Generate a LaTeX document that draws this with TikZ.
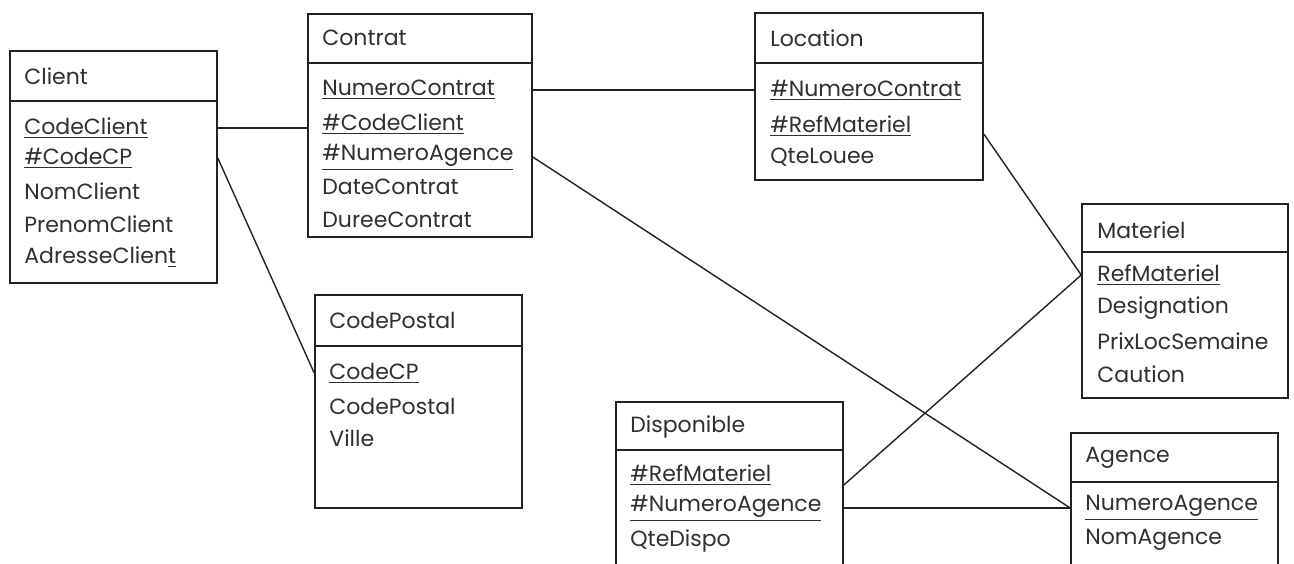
\documentclass[tikz,border=0pt]{standalone}
\usepackage{fontspec}
\setmainfont{Poppins}
\usetikzlibrary{fit,calc}
\definecolor{txt}{HTML}{303030}
\definecolor{ln}{HTML}{222222}
\tikzset{
  box/.style={draw=ln, line width=0.8pt, inner sep=0pt},
  attr/.style={anchor=west, inner sep=0pt, text=txt, font=\fontsize{11}{13}\selectfont},
  conn/.style={draw=ln, line width=0.7pt},
  divider/.style={draw=ln, line width=1.4pt},
  thindivider/.style={draw=ln, line width=1pt}
}
\begin{document}
\begin{tikzpicture}[x=0.5pt,y=-0.5pt]
\useasboundingbox (0,0) rectangle (1294,563);
\fill[white] (0,0) rectangle (1294,563);
\clip (0,0) rectangle (1294,563);

% Client
\node[box, fit={(10,51) (217,283)}] (client) {};
\draw[divider] (client.west |- 0,101) -- (client.east |- 0,101);
\node[attr] (clh) at (24,76) {Client};
\node[attr] (clcode) at (24,128) {\underline{CodeClient}};
\node[attr] (clcp) at (24,158) {\underline{\#CodeCP}};
\node[attr] (clnom) at (24,191) {NomClient};
\node[attr] (clpre) at (24,224) {PrenomClient};
\node[attr] (cladr) at (24,257) {AdresseClien\underline{t}};

% Contrat
\node[box, fit={(308,14) (532,237)}] (contrat) {};
\draw[divider] (contrat.west |- 0,63) -- (contrat.east |- 0,63);
\node[attr] (cth) at (322,38) {Contrat};
\node[attr] (ctnum) at (322,90) {\underline{NumeroContrat}};
\node[attr] (ctcli) at (322,124) {\underline{\#CodeClient}};
\node[attr] (ctag) at (322,157) {\underline{\#NumeroAgence}};
\node[attr] (ctdate) at (322,187) {DateContrat};
\node[attr] (ctdur) at (322,220) {DureeContrat};

% Location
\node[box, fit={(755,13) (983,180)}] (location) {};
\draw[divider] (location.west |- 0,63) -- (location.east |- 0,63);
\node[attr] (lch) at (770,38) {Location};
\node[attr] (lcnum) at (770,90) {\underline{\#NumeroContrat}};
\node[attr] (lcref) at (770,126) {\underline{\#RefMateriel}};
\node[attr] (lcqte) at (770,157) {QteLouee};

% Materiel
\node[box, fit={(1082,204) (1288,398)}] (materiel) {};
\draw[divider] (materiel.west |- 0,252) -- (materiel.east |- 0,252);
\node[attr] (mh) at (1097,230) {Materiel};
\node[attr] (mref) at (1097,275) {\underline{RefMateriel}};
\node[attr] (mdes) at (1097,308) {Designation};
\node[attr] (mprix) at (1097,341) {PrixLocSemaine};
\node[attr] (mcau) at (1097,374) {Caution};

% CodePostal
\node[box, fit={(315,295) (522,508)}] (codepostal) {};
\draw[divider] (codepostal.west |- 0,346) -- (codepostal.east |- 0,346);
\node[attr] (cph) at (329,320) {CodePostal};
\node[attr] (cpcode) at (329,373) {\underline{CodeCP}};
\node[attr] (cppost) at (329,406) {CodePostal};
\node[attr] (cpville) at (329,438) {Ville};

% Disponible
\node[box, fit={(616,402) (843,590)}] (disponible) {};
\draw[thindivider] (disponible.west |- 0,450) -- (disponible.east |- 0,450);
\node[attr] (dh) at (630,427) {Disponible};
\node[attr] (dref) at (630,475) {\underline{\#RefMateriel}};
\node[attr] (dnag) at (630,508) {\underline{\#NumeroAgence}};
\node[attr] (dqte) at (630,541) {QteDispo};

% Agence
\node[box, fit={(1071,433) (1278,590)}] (agence) {};
\draw[thindivider] (agence.west |- 0,482) -- (agence.east |- 0,482);
\node[attr] (agh) at (1085,458) {Agence};
\node[attr] (agnum) at (1085,508) {\underline{NumeroAgence}};
\node[attr] (agnom) at (1085,540) {NomAgence};

% Connectors
\draw[conn] (client.east |- clcode) -- (contrat.west |- clcode);
\draw[conn] (client.east |- clcp) -- (codepostal.west |- cpcode);
\draw[conn] (contrat.east |- ctnum) -- (location.west |- lcnum);
\draw[conn] (contrat.east |- ctag) -- (agence.west |- agnum);
\draw[conn] ($(location.east |- lcref)+(0,8)$) -- (materiel.west |- mref);
\draw[conn] ($(disponible.east |- dref)+(0,10)$) -- (materiel.west |- mref);
\draw[conn] (disponible.east |- dnag) -- (agence.west |- agnum);
\end{tikzpicture}
\end{document}
